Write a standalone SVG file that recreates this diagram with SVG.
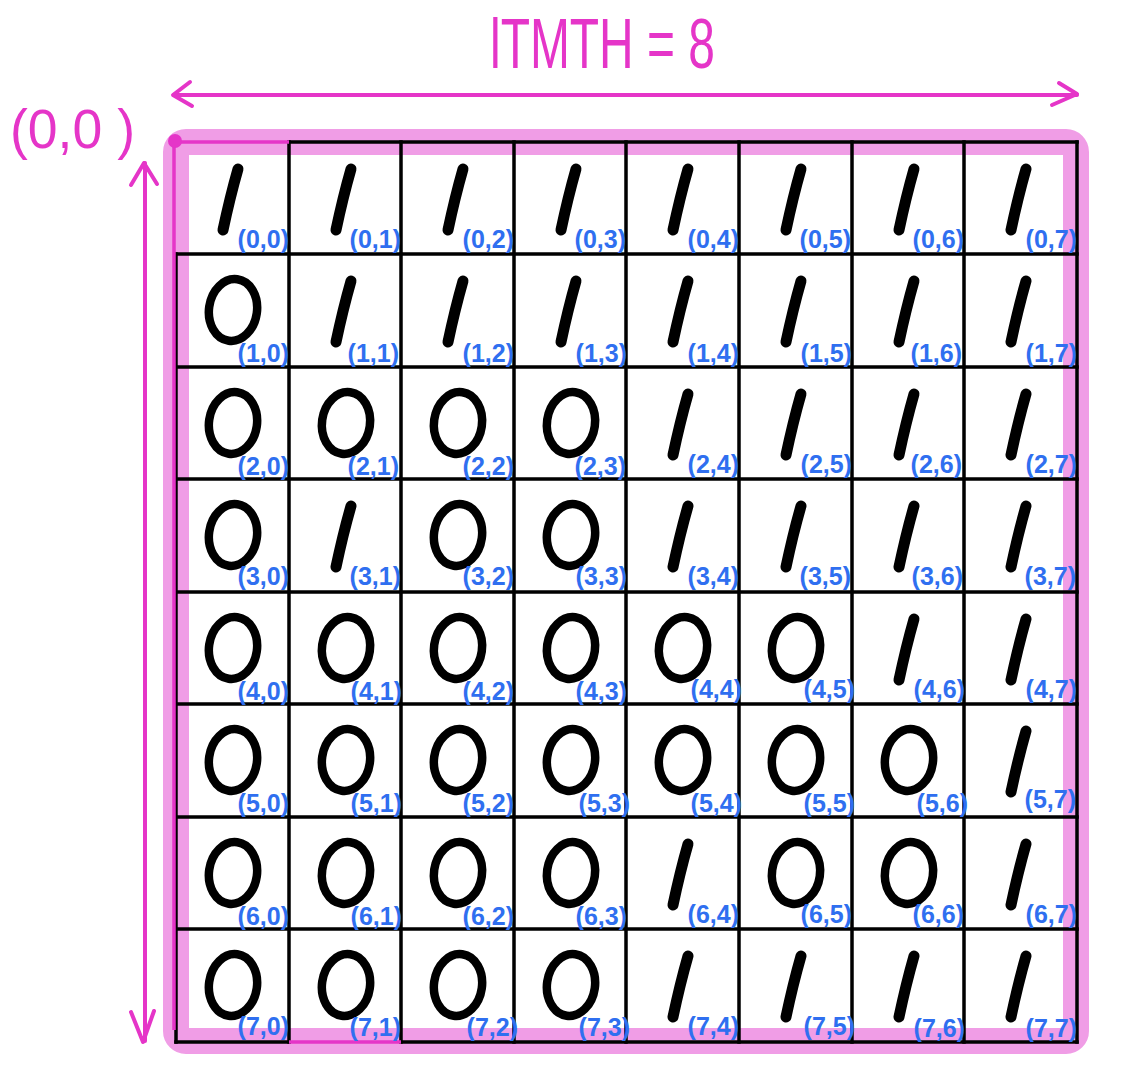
<svg xmlns="http://www.w3.org/2000/svg" width="1123" height="1078" viewBox="0 0 1123 1078">
<style>
.grid{stroke:#000;stroke-width:3.5;fill:none;stroke-linecap:square}
.mag{stroke:#e535c8;stroke-width:4;fill:none;stroke-linecap:round;stroke-linejoin:round}
.lbl{font-family:"Liberation Sans",Arial,sans-serif;font-weight:bold;font-size:25px;fill:#2f6ff0;text-anchor:end}
.one{stroke:#000;stroke-width:11;stroke-linecap:round;fill:none}
.zero{stroke:#000;stroke-width:8.5;fill:none}
.ttl{font-family:"Liberation Sans",Arial,sans-serif;fill:#e535c8}
</style>
<defs>
<g id="g1"><path class="one" d="M62 27 Q54 55 47 88"/></g>
<g id="g0"><ellipse class="zero" cx="57" cy="56" rx="24" ry="31" transform="rotate(8 57 56)"/></g>
</defs>
<rect width="1123" height="1078" fill="#fff"/>
<g id="frame">
<rect x="176" y="142" width="900" height="899" rx="10" fill="none" stroke="#f09de6" stroke-width="26"/>
</g>
<g id="title">
<text class="ttl" x="490" y="68" font-size="70" textLength="225" lengthAdjust="spacingAndGlyphs">lTMTH = 8</text>
<text class="ttl" x="10" y="148" font-size="56" textLength="125" lengthAdjust="spacingAndGlyphs">(0,0 )</text>
</g>
<g id="connectors">
<line class="mag" x1="174" y1="95" x2="1077" y2="95"/>
<polyline class="mag" points="190,82 173,95 192,106"/>
<polyline class="mag" points="1059,83 1077,94 1052,105"/>
<line class="mag" x1="145" y1="163" x2="145" y2="1041"/>
<polyline class="mag" points="131,185 144,163 157,184"/>
<polyline class="mag" points="131,1012 143,1042 154,1011"/>
</g>
<g id="grid">
<path class="grid" d="M289 142H1077M176 254H1077M176 367H1077M176 479H1077M176 592H1077M176 704H1077M176 817H1077M176 929H1077M176 1042H289M401 1042H1077"/>
<path class="grid" d="M176 254V1042M289 142V1042M401 142V1042M514 142V1042M626 142V1042M739 142V1042M852 142V1042M964 142V1042M1077 142V1042"/>
<path d="M175 142H289M174 142V1030M289 1042H401" stroke="#e535c8" stroke-width="3.5" fill="none"/>
<circle cx="175" cy="141" r="7" fill="#e535c8"/>
</g>
<g id="cells">
<g id="c00" transform="translate(176,142)"><use href="#g1"/><text class="lbl" x="113" y="106">(0,0)</text></g>
<g id="c01" transform="translate(289,142)"><use href="#g1"/><text class="lbl" x="112" y="106">(0,1)</text></g>
<g id="c02" transform="translate(401,142)"><use href="#g1"/><text class="lbl" x="113" y="106">(0,2)</text></g>
<g id="c03" transform="translate(514,142)"><use href="#g1"/><text class="lbl" x="112" y="106">(0,3)</text></g>
<g id="c04" transform="translate(626,142)"><use href="#g1"/><text class="lbl" x="113" y="106">(0,4)</text></g>
<g id="c05" transform="translate(739,142)"><use href="#g1"/><text class="lbl" x="112" y="106">(0,5)</text></g>
<g id="c06" transform="translate(852,142)"><use href="#g1"/><text class="lbl" x="112" y="106">(0,6)</text></g>
<g id="c07" transform="translate(964,142)"><use href="#g1"/><text class="lbl" x="113" y="106">(0,7)</text></g>

<g id="c10" transform="translate(176,254)"><use href="#g0"/><text class="lbl" x="113" y="108">(1,0)</text></g>
<g id="c11" transform="translate(289,254)"><use href="#g1"/><text class="lbl" x="110" y="108">(1,1)</text></g>
<g id="c12" transform="translate(401,254)"><use href="#g1"/><text class="lbl" x="113" y="108">(1,2)</text></g>
<g id="c13" transform="translate(514,254)"><use href="#g1"/><text class="lbl" x="113" y="108">(1,3)</text></g>
<g id="c14" transform="translate(626,254)"><use href="#g1"/><text class="lbl" x="113" y="108">(1,4)</text></g>
<g id="c15" transform="translate(739,254)"><use href="#g1"/><text class="lbl" x="113" y="108">(1,5)</text></g>
<g id="c16" transform="translate(852,254)"><use href="#g1"/><text class="lbl" x="110" y="108">(1,6)</text></g>
<g id="c17" transform="translate(964,254)"><use href="#g1"/><text class="lbl" x="113" y="108">(1,7)</text></g>

<g id="c20" transform="translate(176,367)"><use href="#g0"/><text class="lbl" x="113" y="108">(2,0)</text></g>
<g id="c21" transform="translate(289,367)"><use href="#g0"/><text class="lbl" x="110" y="108">(2,1)</text></g>
<g id="c22" transform="translate(401,367)"><use href="#g0"/><text class="lbl" x="113" y="108">(2,2)</text></g>
<g id="c23" transform="translate(514,367)"><use href="#g0"/><text class="lbl" x="112" y="108">(2,3)</text></g>
<g id="c24" transform="translate(626,367)"><use href="#g1"/><text class="lbl" x="113" y="106">(2,4)</text></g>
<g id="c25" transform="translate(739,367)"><use href="#g1"/><text class="lbl" x="113" y="106">(2,5)</text></g>
<g id="c26" transform="translate(852,367)"><use href="#g1"/><text class="lbl" x="110" y="106">(2,6)</text></g>
<g id="c27" transform="translate(964,367)"><use href="#g1"/><text class="lbl" x="113" y="106">(2,7)</text></g>

<g id="c30" transform="translate(176,479)"><use href="#g0"/><text class="lbl" x="113" y="106">(3,0)</text></g>
<g id="c31" transform="translate(289,479)"><use href="#g1"/><text class="lbl" x="112" y="106">(3,1)</text></g>
<g id="c32" transform="translate(401,479)"><use href="#g0"/><text class="lbl" x="113" y="106">(3,2)</text></g>
<g id="c33" transform="translate(514,479)"><use href="#g0"/><text class="lbl" x="113" y="106">(3,3)</text></g>
<g id="c34" transform="translate(626,479)"><use href="#g1"/><text class="lbl" x="113" y="106">(3,4)</text></g>
<g id="c35" transform="translate(739,479)"><use href="#g1"/><text class="lbl" x="112" y="106">(3,5)</text></g>
<g id="c36" transform="translate(852,479)"><use href="#g1"/><text class="lbl" x="111" y="106">(3,6)</text></g>
<g id="c37" transform="translate(964,479)"><use href="#g1"/><text class="lbl" x="112" y="106">(3,7)</text></g>

<g id="c40" transform="translate(176,592)"><use href="#g0"/><text class="lbl" x="113" y="108">(4,0)</text></g>
<g id="c41" transform="translate(289,592)"><use href="#g0"/><text class="lbl" x="113" y="108">(4,1)</text></g>
<g id="c42" transform="translate(401,592)"><use href="#g0"/><text class="lbl" x="113" y="108">(4,2)</text></g>
<g id="c43" transform="translate(514,592)"><use href="#g0"/><text class="lbl" x="113" y="108">(4,3)</text></g>
<g id="c44" transform="translate(626,592)"><use href="#g0"/><text class="lbl" x="116" y="106">(4,4)</text></g>
<g id="c45" transform="translate(739,592)"><use href="#g0"/><text class="lbl" x="116" y="106">(4,5)</text></g>
<g id="c46" transform="translate(852,592)"><use href="#g1"/><text class="lbl" x="113" y="106">(4,6)</text></g>
<g id="c47" transform="translate(964,592)"><use href="#g1"/><text class="lbl" x="113" y="106">(4,7)</text></g>

<g id="c50" transform="translate(176,704)"><use href="#g0"/><text class="lbl" x="113" y="108">(5,0)</text></g>
<g id="c51" transform="translate(289,704)"><use href="#g0"/><text class="lbl" x="113" y="108">(5,1)</text></g>
<g id="c52" transform="translate(401,704)"><use href="#g0"/><text class="lbl" x="113" y="108">(5,2)</text></g>
<g id="c53" transform="translate(514,704)"><use href="#g0"/><text class="lbl" x="116" y="108">(5,3)</text></g>
<g id="c54" transform="translate(626,704)"><use href="#g0"/><text class="lbl" x="116" y="108">(5,4)</text></g>
<g id="c55" transform="translate(739,704)"><use href="#g0"/><text class="lbl" x="116" y="108">(5,5)</text></g>
<g id="c56" transform="translate(852,704)"><use href="#g0"/><text class="lbl" x="116" y="108">(5,6)</text></g>
<g id="c57" transform="translate(964,704)"><use href="#g1"/><text class="lbl" x="112" y="104">(5,7)</text></g>

<g id="c60" transform="translate(176,817)"><use href="#g0"/><text class="lbl" x="113" y="108">(6,0)</text></g>
<g id="c61" transform="translate(289,817)"><use href="#g0"/><text class="lbl" x="113" y="108">(6,1)</text></g>
<g id="c62" transform="translate(401,817)"><use href="#g0"/><text class="lbl" x="113" y="108">(6,2)</text></g>
<g id="c63" transform="translate(514,817)"><use href="#g0"/><text class="lbl" x="113" y="108">(6,3)</text></g>
<g id="c64" transform="translate(626,817)"><use href="#g1"/><text class="lbl" x="113" y="106">(6,4)</text></g>
<g id="c65" transform="translate(739,817)"><use href="#g0"/><text class="lbl" x="113" y="106">(6,5)</text></g>
<g id="c66" transform="translate(852,817)"><use href="#g0"/><text class="lbl" x="112" y="106">(6,6)</text></g>
<g id="c67" transform="translate(964,817)"><use href="#g1"/><text class="lbl" x="113" y="106">(6,7)</text></g>

<g id="c70" transform="translate(176,929)"><use href="#g0"/><text class="lbl" x="113" y="106">(7,0)</text></g>
<g id="c71" transform="translate(289,929)"><use href="#g0"/><text class="lbl" x="112" y="107">(7,1)</text></g>
<g id="c72" transform="translate(401,929)"><use href="#g0"/><text class="lbl" x="117" y="107">(7,2)</text></g>
<g id="c73" transform="translate(514,929)"><use href="#g0"/><text class="lbl" x="116" y="107">(7,3)</text></g>
<g id="c74" transform="translate(626,929)"><use href="#g1"/><text class="lbl" x="113" y="106">(7,4)</text></g>
<g id="c75" transform="translate(739,929)"><use href="#g1"/><text class="lbl" x="116" y="106">(7,5)</text></g>
<g id="c76" transform="translate(852,929)"><use href="#g1"/><text class="lbl" x="113" y="108">(7,6)</text></g>
<g id="c77" transform="translate(964,929)"><use href="#g1"/><text class="lbl" x="113" y="108">(7,7)</text></g>
</g>
</svg>
